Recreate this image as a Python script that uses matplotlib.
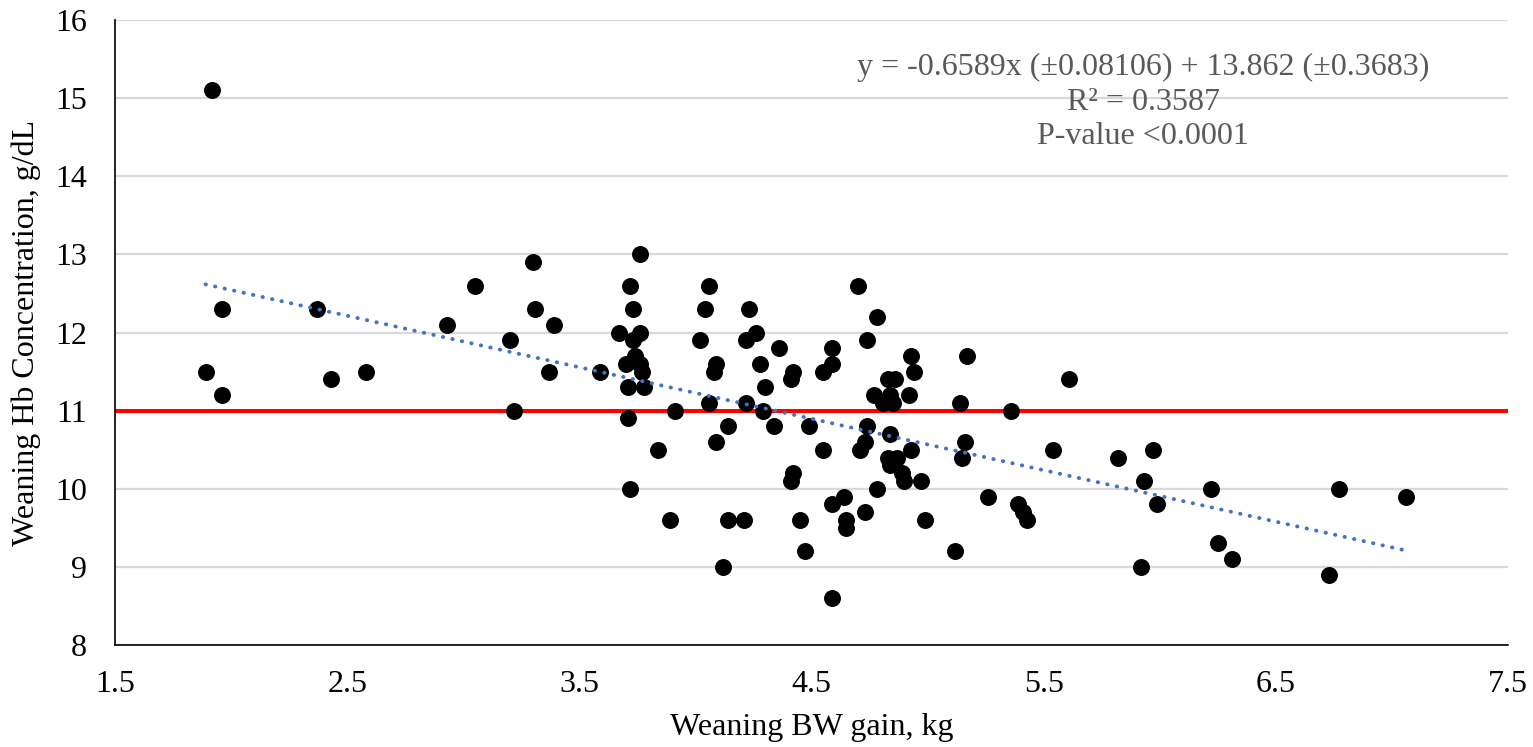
import numpy as np
import matplotlib
matplotlib.use('Agg')
import matplotlib.pyplot as plt

# weaning body weight gain (kg) and Hb concentration (g/dL) per piglet
bw_gain = [
    1.92, 1.89, 1.96, 1.96, 2.37, 2.43, 2.58, 2.93, 3.05, 3.20, 3.22, 3.30, 3.31, 3.39, 3.37,
    3.59, 3.67, 3.72, 3.73, 3.70, 3.71, 3.71, 3.72, 3.76, 3.76, 3.73, 3.74, 3.76, 3.77, 3.78,
    3.84, 3.89, 3.91, 4.06, 4.04, 4.02, 4.09, 4.08, 4.06, 4.09, 4.14, 4.14, 4.12, 4.21, 4.23,
    4.22, 4.26, 4.28, 4.22, 4.30, 4.29, 4.36, 4.34, 4.41, 4.42, 4.41, 4.42, 4.45, 4.47, 4.49,
    4.55, 4.55, 4.59, 4.59, 4.59, 4.59, 4.64, 4.65, 4.65, 4.70, 4.78, 4.74, 4.93, 4.94, 4.83,
    4.86, 4.77, 4.84, 4.92, 4.81, 4.85, 5.14, 5.17, 4.74, 4.84, 4.73, 4.71, 4.93, 5.16, 5.15,
    4.83, 4.87, 4.84, 4.89, 4.90, 4.97, 4.78, 4.73, 4.99, 5.12,
    5.26, 5.36, 5.61, 5.54, 5.82, 5.97, 5.93, 5.99, 5.92, 5.39, 5.41, 5.43, 6.22, 6.25, 6.31,
    6.73, 6.77, 7.06,
]
hb = [
    15.1, 11.5, 12.3, 11.2, 12.3, 11.4, 11.5, 12.1, 12.6, 11.9, 11.0, 12.9, 12.3, 12.1, 11.5,
    11.5, 12.0, 12.6, 12.3, 11.6, 11.3, 10.9, 10.0, 13.0, 12.0, 11.9, 11.7, 11.6, 11.5, 11.3,
    10.5, 9.6, 11.0, 12.6, 12.3, 11.9, 11.6, 11.5, 11.1, 10.6, 10.8, 9.6, 9.0, 9.6, 12.3,
    11.9, 12.0, 11.6, 11.1, 11.3, 11.0, 11.8, 10.8, 11.4, 11.5, 10.1, 10.2, 9.6, 9.2, 10.8,
    10.5, 11.5, 11.8, 11.6, 9.8, 8.6, 9.9, 9.6, 9.5, 12.6, 12.2, 11.9, 11.7, 11.5, 11.4,
    11.4, 11.2, 11.2, 11.2, 11.1, 11.1, 11.1, 11.7, 10.8, 10.7, 10.6, 10.5, 10.5, 10.6, 10.4,
    10.4, 10.4, 10.3, 10.2, 10.1, 10.1, 10.0, 9.7, 9.6, 9.2,
    9.9, 11.0, 11.4, 10.5, 10.4, 10.5, 10.1, 9.8, 9.0, 9.8, 9.7, 9.6, 10.0, 9.3, 9.1,
    8.9, 10.0, 9.9,
]

# fitted regression and anemia cut-off
slope = -0.6589
intercept = 13.862
cutoff = 11.0
fit_text = 'y = -0.6589x (±0.08106) + 13.862 (±0.3683)\nR² = 0.3587\nP-value <0.0001'

x_ticks = [1.5, 2.5, 3.5, 4.5, 5.5, 6.5, 7.5]
y_ticks = [8, 9, 10, 11, 12, 13, 14, 15, 16]

plt.rcParams['font.family'] = ['Liberation Serif', 'DejaVu Serif']
fs = 23

fig = plt.figure(figsize=(15.33, 7.47), dpi=100)
ax = fig.add_axes([0.075, 0.1365, 0.9087, 0.8367])

ax.set_xlim(1.5, 7.5)
ax.set_ylim(8, 16)
ax.set_xticks(x_ticks)
ax.set_xticklabels([str(t) for t in x_ticks])
ax.set_yticks(y_ticks)
ax.grid(axis='y', color='#d9d9d9', linewidth=1.6)
ax.set_axisbelow(True)

for side in ['top', 'right']:
    ax.spines[side].set_visible(False)
ax.spines['left'].set_linewidth(1.2)
ax.spines['bottom'].set_linewidth(1.2)
ax.tick_params(length=0, labelsize=fs)
ax.tick_params(axis='y', pad=20)
ax.tick_params(axis='x', pad=18)

ax.axhline(cutoff, color='#ff0000', linewidth=2.9, zorder=2)
ax.scatter(bw_gain, hb, s=125, color='black', zorder=3)

xs = np.array([min(bw_gain), max(bw_gain)])
ax.plot(xs, slope * xs + intercept, color='#4472c4', linewidth=2.8,
        linestyle=(0, (0.1, 2.4)), dash_capstyle='round', zorder=4)

ax.text(0.738, 0.948, fit_text, transform=ax.transAxes, ha='center', va='top',
        fontsize=fs, color='#595959', linespacing=1.27)

ax.set_xlabel('Weaning BW gain, kg', fontsize=fs, labelpad=10)
ax.set_ylabel('Weaning Hb Concentration, g/dL', fontsize=fs, labelpad=10)

fig.savefig('out.png', dpi=100)
